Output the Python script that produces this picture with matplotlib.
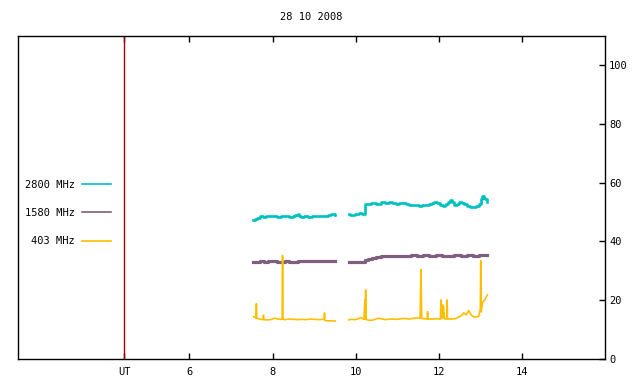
import matplotlib
matplotlib.use("Agg")
import matplotlib.pyplot as plt
import numpy as np

# Dane (czas UT w godzinach, strumien)
t_2800_a = [7.54, 7.60, 7.66, 7.74, 7.80, 7.88, 7.95, 8.05, 8.15, 8.25, 8.35, 8.45, 8.52, 8.58, 8.62, 8.66,
            8.72, 8.80, 8.90, 9.00, 9.10, 9.20, 9.30, 9.38, 9.44, 9.47, 9.51]
v_2800_a = [47.3, 47.6, 48.0, 48.6, 48.4, 48.7, 48.5, 48.6, 48.4, 48.6, 48.5, 48.3, 48.6, 49.0, 49.5, 48.8,
            48.3, 48.5, 48.4, 48.7, 48.5, 48.8, 48.6, 49.0, 49.5, 49.2, 49.1]
t_2800_b = [9.83, 9.90, 9.95, 10.03, 10.11, 10.17, 10.22, 10.24, 10.30, 10.43, 10.55, 10.67, 10.76, 10.84,
            10.92, 11.00, 11.08, 11.16, 11.24, 11.32, 11.40, 11.48, 11.56, 11.64, 11.72, 11.80, 11.86,
            11.92, 12.00, 12.06, 12.12, 12.16, 12.20, 12.25, 12.30, 12.35, 12.40, 12.46, 12.52, 12.58,
            12.64, 12.70, 12.78, 12.86, 12.93, 12.99, 13.03, 13.07, 13.10, 13.13, 13.17]
v_2800_b = [49.5, 49.0, 49.1, 49.3, 49.7, 49.3, 49.5, 52.8, 52.6, 53.0, 52.9, 53.3, 53.1, 53.4,
            53.0, 52.8, 53.1, 53.0, 52.7, 52.4, 52.5, 52.3, 52.1, 52.3, 52.4, 52.6, 53.0,
            53.5, 53.1, 52.5, 51.9, 52.3, 52.8, 53.5, 54.0, 53.4, 52.4, 52.9, 53.3, 53.0,
            52.8, 52.2, 51.6, 51.7, 52.0, 52.9, 54.3, 55.4, 54.8, 54.5, 53.4]

t_1580_a = [7.54, 7.65, 7.75, 7.85, 7.95, 8.05, 8.15, 8.25, 8.35, 8.45, 8.55, 8.65, 8.75, 8.85,
            8.95, 9.05, 9.15, 9.25, 9.35, 9.45, 9.51]
v_1580_a = [33.0, 33.1, 33.3, 33.1, 33.4, 33.2, 33.0, 33.1, 33.2, 33.0, 33.1, 33.3, 33.4, 33.2,
            33.5, 33.3, 33.2, 33.4, 33.3, 33.2, 33.5]
t_1580_b = [9.83, 9.95, 10.10, 10.22, 10.24, 10.35, 10.43, 10.55, 10.67, 10.80, 10.95, 11.10, 11.25,
            11.40, 11.55, 11.70, 11.85, 12.00, 12.15, 12.30, 12.45, 12.60, 12.75, 12.90, 13.05, 13.17]
v_1580_b = [32.9, 32.9, 32.9, 32.9, 33.8, 33.9, 34.4, 34.6, 35.0, 35.1, 35.0, 35.2, 35.1,
            35.3, 35.2, 35.3, 35.2, 35.3, 35.1, 35.2, 35.3, 35.2, 35.3, 35.2, 35.4, 35.5]

t_403_a = [7.54, 7.58, 7.60, 7.61, 7.62, 7.66, 7.72, 7.77, 7.78, 7.79, 7.85, 7.95, 8.05, 8.12,
           8.20, 8.23, 8.24, 8.25, 8.30, 8.40, 8.50, 8.60, 8.70, 8.80, 8.90, 9.00, 9.10, 9.20,
           9.24, 9.25, 9.26, 9.30, 9.40, 9.51]
v_403_a = [14.4, 14.2, 13.9, 18.8, 13.9, 13.7, 13.5, 13.4, 14.9, 13.4, 13.3, 13.4, 13.9, 13.6,
           13.5, 13.6, 35.2, 13.5, 13.4, 13.6, 13.5, 13.4, 13.5, 13.4, 13.6, 13.5, 13.4, 13.5,
           13.5, 15.7, 13.1, 13.0, 13.0, 12.9]
t_403_b = [9.83, 9.90, 9.98, 10.05, 10.12, 10.20, 10.22, 10.23, 10.24, 10.25, 10.30, 10.40, 10.55,
           10.70, 10.85, 11.00, 11.15, 11.30, 11.45, 11.55, 11.57, 11.59, 11.65, 11.72, 11.73, 11.74,
           11.85, 11.95, 12.04, 12.05, 12.06, 12.09, 12.10, 12.11, 12.14, 12.15, 12.16, 12.19, 12.20,
           12.21, 12.30, 12.40, 12.48, 12.55, 12.60, 12.66, 12.72, 12.78, 12.84, 12.90, 12.96,
           13.00, 13.01, 13.02, 13.05, 13.08, 13.11, 13.14, 13.17]
v_403_b = [13.3, 13.5, 13.4, 13.6, 14.1, 13.5, 20.1, 13.6, 23.5, 13.5, 13.2, 13.2, 13.9,
           13.4, 13.6, 13.5, 13.8, 13.6, 14.0, 13.8, 30.4, 13.8, 13.7, 13.6, 16.1, 13.6,
           13.6, 13.7, 13.6, 20.1, 13.8, 18.4, 13.9, 17.9, 13.7, 13.6, 13.6, 13.7, 20.1,
           13.6, 13.6, 13.7, 14.3, 14.8, 15.7, 15.0, 16.5, 15.0, 14.3, 14.3, 14.5,
           17.0, 33.4, 16.0, 19.0, 19.8, 20.1, 21.0, 21.8]

xticks = [4.43, 6, 8, 10, 12, 14]
xtick_labels = ['UT', '6', '8', '10', '12', '14']
yticks = [0, 20, 40, 60, 80, 100]
ut_line = 4.43

c_2800 = '#00c0c0'
c_1580 = '#7f5f7f'
c_403 = '#ffbf00'

plt.rcParams['font.family'] = 'DejaVu Sans Mono'
plt.rcParams['font.size'] = 7.5

fig = plt.figure(figsize=(6.4, 3.84), dpi=100)
ax = fig.add_axes([0.0286, 0.0651, 0.9167, 0.842])

ax.axvline(ut_line, color='#a00000', lw=1.0)

l1, = ax.plot(t_2800_a, v_2800_a, color=c_2800, lw=1.9, drawstyle='steps-mid')
ax.plot(t_2800_b, v_2800_b, color=c_2800, lw=1.9, drawstyle='steps-mid')
l2, = ax.plot(t_1580_a, v_1580_a, color=c_1580, lw=2.3, drawstyle='steps-mid')
ax.plot(t_1580_b, v_1580_b, color=c_1580, lw=2.3, drawstyle='steps-mid')
l3, = ax.plot(t_403_a, v_403_a, color=c_403, lw=1.2)
ax.plot(t_403_b, v_403_b, color=c_403, lw=1.2)

ax.set_xlim(1.88, 16)
ax.set_ylim(0, 110)
ax.set_xticks(xticks)
ax.set_xticklabels(xtick_labels)
ax.set_yticks(yticks)
ax.tick_params(axis='x', direction='in', top=True, bottom=True, length=4, width=1, pad=6)
ax.tick_params(axis='y', direction='in', left=False, right=True, labelleft=False, labelright=True,
               length=4, width=1, pad=3)
for s in ax.spines.values():
    s.set_linewidth(1.0)

ax.set_title('28 10 2008', pad=11, fontsize=7.5)

leg_handles = [plt.Line2D([], [], color=c_2800, lw=1.2),
               plt.Line2D([], [], color=c_1580, lw=1.2),
               plt.Line2D([], [], color=c_403, lw=1.2)]
fig.legend(leg_handles, ['2800 MHz', '1580 MHz', '403 MHz'], loc='center right',
           bbox_to_anchor=(111 / 640, (384 - 213) / 384), frameon=False, markerfirst=False,
           handlelength=2.8, handletextpad=0.7, labelspacing=1.75, borderpad=0, borderaxespad=0)

fig.savefig('out.png', dpi=100)
